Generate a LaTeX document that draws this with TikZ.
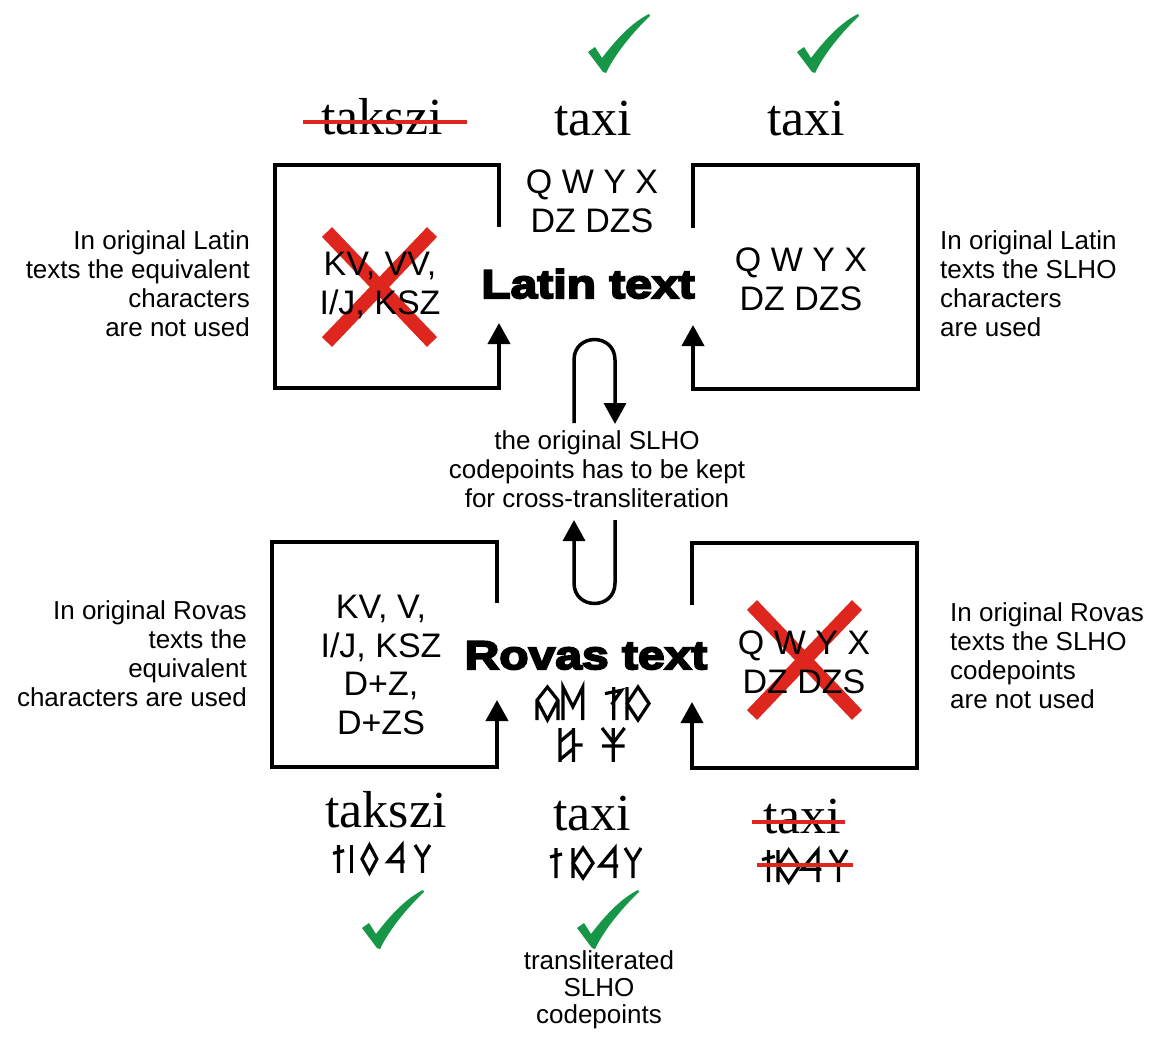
\documentclass[tikz,border=0pt]{standalone}
\usepackage{fontspec}
\setmainfont{Liberation Serif}
\setsansfont{Liberation Sans}
\newfontfamily\heavyfont[FakeStretch=1.2,BoldFeatures={FakeBold=5}]{Liberation Sans}
\usetikzlibrary{arrows.meta}
\definecolor{okgreen}{RGB}{22,150,70}
\definecolor{nored}{RGB}{222,38,30}
\tikzset{
  boxline/.style={line width=4pt, line join=miter},
  arrowend/.style={-{Triangle[width=22pt,length=21pt]}},
  loopline/.style={line width=3.5pt},
  boxtext/.style={font=\sffamily\fontsize{34}{38.5}\selectfont, align=center, inner sep=0pt, anchor=base},
  sidenote/.style={font=\sffamily\fontsize{26}{29}\selectfont, inner sep=0pt},
  serifword/.style={font=\fontsize{52}{52}\selectfont, inner sep=0pt, anchor=base},
  bighead/.style={font=\heavyfont\bfseries\fontsize{40}{40}\selectfont, inner sep=0pt, anchor=base},
  strikeline/.style={draw=nored, line width=4pt},
  nocross/.style={draw=nored, line width=14pt},
  rvstroke/.style={line width=3.2pt, line join=miter},
  checkmark/.pic={\fill[okgreen] (0,0) -- (-15,-20) -- (-8,-25) -- (-1,-14)
      .. controls (15,-35) and (30,-50) .. (46,-58) -- (47,-56)
      .. controls (30,-40) and (12,-18) .. (3,1) -- cycle;},
  % Old Hungarian letters, drawn in a box 30 units high
  rvi/.pic={\draw[rvstroke] (6,0) -- (6,30) (0,9) -- (12,6);},
  rvsz/.pic={\draw[rvstroke] (1.5,0) -- (1.5,30);},
  rvk/.pic={\draw[rvstroke] (8,0) -- (16,15) -- (8,30) -- (0,15) -- cycle;},
  rva/.pic={\draw[rvstroke] (15,30) -- (15,0) -- (0,18) -- (18,18);},
  rvt/.pic={\draw[rvstroke] (0,0) -- (8,13) -- (16,0) (8,13) -- (8,30);},
  rvx/.pic={\draw[rvstroke] (0,0) -- (0,30) (0,15) -- (10,0) -- (20,15) -- (10,30) -- cycle;},
  rvq/.pic={\draw[rvstroke] (0,30) -- (0,12) -- (9.5,0) -- (19,12) -- (19,30) (0,12) -- (9.5,30) -- (19,12);},
  rvw/.pic={\draw[rvstroke] (0,30) -- (0,0) -- (9,18) -- (18,0) -- (18,30);},
  rvy/.pic={\draw[rvstroke] (8,0) -- (8,30) (0,6) -- (15,3) -- (6,16);},
  rvdz/.pic={\draw[rvstroke] (0,0) -- (0,30) (12,0) -- (12,30) (0,12) -- (12,2) (0,28) -- (12,18) (12,15) -- (20,15);},
  rvdzs/.pic={\draw[rvstroke] (0,0) -- (10,13) -- (20,0) (10,0) -- (10,30) (0,16) -- (20,16);}
}
\begin{document}
\begin{tikzpicture}[x=1pt,y=-1pt]
\fill[white] (0,0) rectangle (1155,1051);
\useasboundingbox (0,0) rectangle (1155,1051);

% central labels (multi-line nodes sit on the baseline of their last line)
\node[bighead] (latin) at (588,298) {Latin text};
\node[bighead] (rovas) at (586,669) {Rovas text};
\node[boxtext] (latinextra) at (592,232) {Q W Y X\\DZ DZS};

% the four frames, each closing with an arrow towards the centre
\coordinate (tlA) at (499,227); \coordinate (tlB) at (499,323);
\coordinate (trA) at (693,228); \coordinate (trB) at (693,325);
\coordinate (blA) at (497,603); \coordinate (blB) at (497,700);
\coordinate (brA) at (692,605); \coordinate (brB) at (692,702);
\draw[boxline,arrowend] (tlA) -- (499,165) -- (275,165) -- (275,388) -- (499,388) -- (tlB);
\draw[boxline,arrowend] (trA) -- (693,165) -- (918,165) -- (918,389) -- (693,389) -- (trB);
\draw[boxline,arrowend] (blA) -- (497,542) -- (272,542) -- (272,767) -- (497,767) -- (blB);
\draw[boxline,arrowend] (brA) -- (692,543) -- (917,543) -- (917,768) -- (692,768) -- (brB);

% crossed-out contents
\draw[nocross] (327,232) -- (432,342) (432,232) -- (327,342);
\draw[nocross] (752,605) -- (857,715) (857,605) -- (752,715);

\node[boxtext] (tlbox) at (380,314) {KV, VV,\\I/J, KSZ};
\node[boxtext] (trbox) at (801,310) {Q W Y X\\DZ DZS};
\node[boxtext] (blbox) at (381,734) {KV, V,\\I/J, KSZ\\D+Z,\\D+ZS};
\node[boxtext] (brbox) at (804,693) {Q W Y X\\DZ DZS};

% loops between the two scripts
\coordinate (upA) at (574,423); \coordinate (upB) at (615,424);
\coordinate (dnA) at (615,520); \coordinate (dnB) at (574,520);
\draw[loopline,arrowend] (upA) -- (574,360) .. controls (574,332.7) and (615,332.7) .. (615,360) -- (upB);
\draw[loopline,arrowend] (dnA) -- (615,583) .. controls (615,610.3) and (574,610.3) .. (574,583) -- (dnB);
\node[sidenote,align=center,anchor=base] (keep) at (597,507) {the original SLHO\\codepoints has to be kept\\for cross-transliteration};

% side notes
\node[sidenote,align=right,anchor=base east] (noteTL) at (250,336) {In original Latin\\texts the equivalent\\characters\\are not used};
\node[sidenote,align=left,anchor=base west] (noteTR) at (940,336) {In original Latin\\texts the SLHO\\characters\\are used};
\node[sidenote,align=right,anchor=base east] (noteBL) at (247,706) {In original Rovas\\texts the\\equivalent\\characters are used};
\node[sidenote,align=left,anchor=base west] (noteBR) at (950,708) {In original Rovas\\texts the SLHO\\codepoints\\are not used};

% sample words, top
\node[serifword] (wTL) at (382,135) {takszi};
\node[serifword] (wTC) at (593,136) {taxi};
\node[serifword] (wTR) at (806,136) {taxi};
\draw[strikeline] (303,122) -- (467,122);
\pic at (603,72) {checkmark};
\pic at (812,72) {checkmark};

% sample words, bottom
\node[serifword] (wBL) at (386,827) {takszi};
\node[serifword] (wBC) at (592,830) {taxi};
\node[serifword] (wBR) at (802,833) {taxi};
\draw[strikeline] (752,822) -- (845,822);

% Rovas letters under the heading
\pic[scale=1.1] at (537,687) {rvq};
\pic[scale=1.1] at (563,687) {rvw};
\pic[scale=1.1] at (605,687) {rvy};
\pic[scale=1.1] at (627,687) {rvx};
\pic[scale=1.13] at (560,728) {rvdz};
\pic[scale=1.13] at (602,728) {rvdzs};

% Rovas spellings of the sample words
\pic[scale=0.93] at (333,845) {rvi};
\pic[scale=0.93] at (350,845) {rvsz};
\pic[scale=0.93] at (362,845) {rvk};
\pic[scale=0.93] at (388,845) {rva};
\pic[scale=0.93] at (415,845) {rvt};

\pic at (550,848) {rvi};
\pic at (573,848) {rvx};
\pic at (600,848) {rva};
\pic at (625,848) {rvt};

\pic[scale=1.07] at (762,850) {rvi};
\pic[scale=1.07] at (778,850) {rvx};
\pic[scale=1.07] at (802,850) {rva};
\pic[scale=1.07] at (830,850) {rvt};
\draw[strikeline] (757,865) -- (853,865);

\pic at (377,948) {checkmark};
\pic at (592,948) {checkmark};
\node[sidenote,align=center,anchor=base,font=\sffamily\fontsize{26}{27}\selectfont] (translit) at (599,1023) {transliterated\\SLHO\\codepoints};
\end{tikzpicture}
\end{document}
